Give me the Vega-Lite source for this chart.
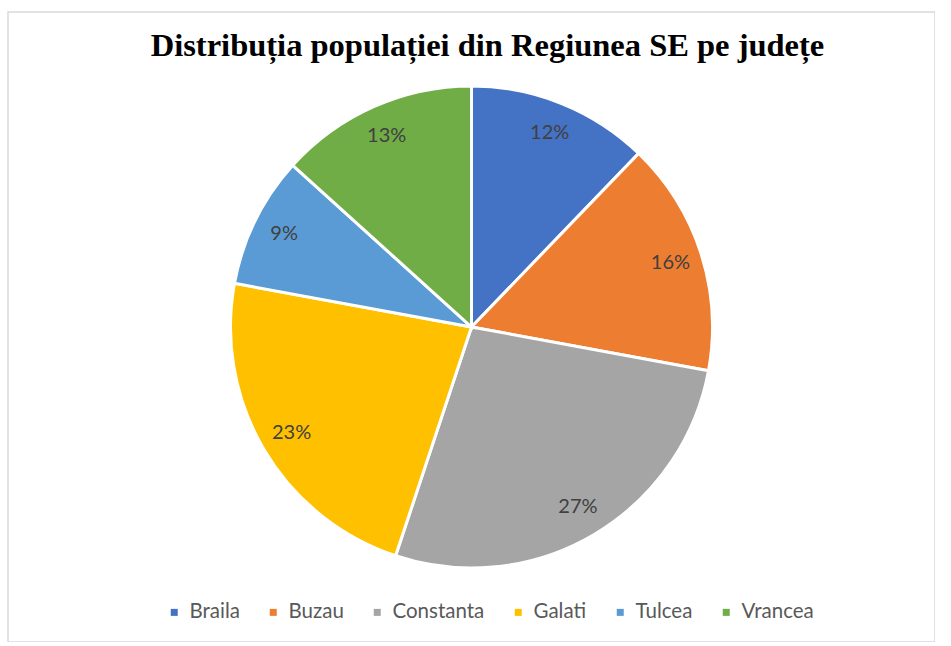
{
  "$schema": "https://vega.github.io/schema/vega-lite/v6.json",
  "autosize": {"type": "none"},
  "padding": {"left": 8, "top": 12, "right": 0, "bottom": 0},
  "width": 927,
  "height": 630,
  "background": "white",
  "title": {
    "text": "Distribuția populației din Regiunea SE pe județe",
    "font": "Liberation Serif",
    "fontSize": 32.5,
    "fontWeight": "bold",
    "color": "black",
    "anchor": "middle",
    "offset": 0,
    "baseline": "alphabetic",
    "dy": 77,
    "dx": 16
  },
  "data": {
    "values": [
      {"county": "Braila", "share": 0.122},
      {"county": "Buzau", "share": 0.157},
      {"county": "Constanta", "share": 0.272},
      {"county": "Galati", "share": 0.228},
      {"county": "Tulcea", "share": 0.088},
      {"county": "Vrancea", "share": 0.133}
    ]
  },
  "layer": [
    {
      "data": {"values": [{}]},
      "mark": {"type": "rect", "fill": null, "fillOpacity": 0, "stroke": "#d9d9d9", "strokeWidth": 1.5},
      "encoding": {}
    },
    {
      "mark": {"type": "arc", "outerRadius": 241, "stroke": "white", "strokeWidth": 3},
      "encoding": {
        "theta": {"field": "share", "type": "quantitative", "stack": true},
        "order": {"field": "county", "sort": "ascending"},
        "color": {
          "field": "county",
          "type": "nominal",
          "scale": {
            "domain": ["Braila", "Buzau", "Constanta", "Galati", "Tulcea", "Vrancea"],
            "range": ["#4472C4", "#ED7D31", "#A5A5A5", "#FFC000", "#5B9BD5", "#70AD47"]
          },
          "legend": {
            "title": null,
            "orient": "none",
            "legendX": 156,
            "legendY": 590,
            "direction": "horizontal",
            "symbolType": "square",
            "symbolSize": 49,
            "symbolStrokeWidth": 0,
            "labelFont": "Lato",
            "labelFontSize": 20.5,
            "labelColor": "#595959",
            "labelOffset": 5,
            "columnPadding": 23,
            "padding": 0
          }
        }
      }
    },
    {
      "mark": {"type": "text", "radius": 209, "font": "Lato", "fontSize": 20, "color": "#404040"},
      "encoding": {
        "theta": {"field": "share", "type": "quantitative", "stack": true},
        "order": {"field": "county", "sort": "ascending"},
        "text": {"field": "share", "type": "quantitative", "format": ".0%"}
      }
    }
  ]
}
